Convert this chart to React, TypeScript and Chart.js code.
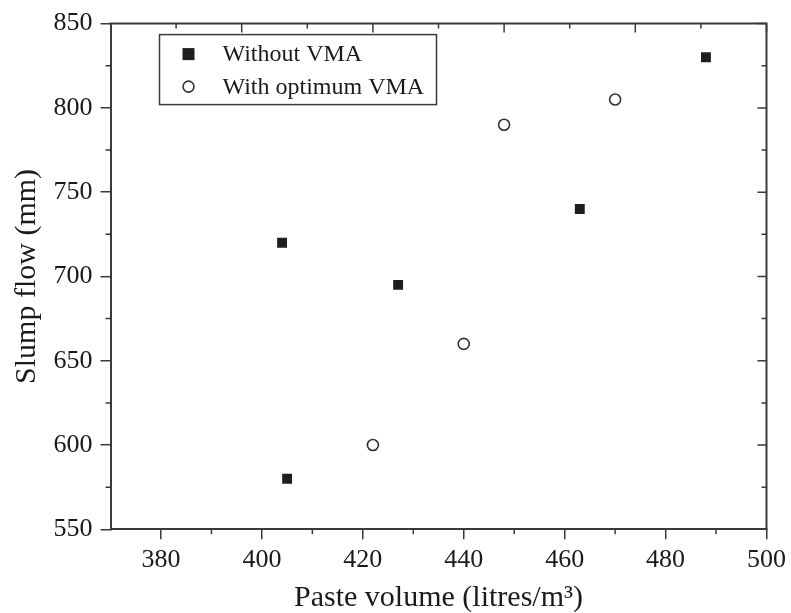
import { useEffect, useRef } from 'react';
import { Chart, registerables } from 'chart.js';

Chart.register(...registerables);

// ---- data ----
const seriesNames = ['Without VMA', 'With optimum VMA'];
const withoutVmaX = [404, 405, 427, 463, 488];
const withoutVmaY = [720, 580, 695, 740, 830];
const withVmaX = [422, 440, 448, 470];
const withVmaY = [600, 660, 790, 805];

const xTitle = 'Paste volume (litres/m³)';
const yTitle = 'Slump flow (mm)';

const xRange = [370, 500];
const yRange = [550, 850];
const xTicks = [380, 400, 420, 440, 460, 480, 500];
const xMinorTicks = [390, 410, 430, 450, 470, 490];
const yTicks = [550, 600, 650, 700, 750, 800, 850];
const yMinorTicks = [575, 625, 675, 725, 775, 825];
const topMajorTicks = [396, 422, 448, 474, 500];
const topMinorTicks = [383, 409, 435, 461, 487];

const FONT = "'Liberation Serif', 'Times New Roman', serif";
const AXIS = '#3a3a3a';
const INK = '#1a1a1a';

const framePlugin = {
  id: 'frameAndLegend',
  afterDraw(chart: any) {
    const { ctx, chartArea: a, scales } = chart;
    const xs = scales.x;
    const ys = scales.y;
    ctx.save();
    ctx.strokeStyle = AXIS;
    ctx.lineWidth = 2;
    ctx.beginPath();
    ctx.moveTo(a.left - 1, a.top);
    ctx.lineTo(a.right, a.top);
    ctx.lineTo(a.right, a.bottom + 1);
    ctx.stroke();

    ctx.lineWidth = 1.5;
    ctx.beginPath();
    // bottom minor (outward)
    xMinorTicks.forEach((v) => {
      const px = xs.getPixelForValue(v);
      ctx.moveTo(px, a.bottom);
      ctx.lineTo(px, a.bottom + 5);
    });
    // left minor (outward)
    yMinorTicks.forEach((v) => {
      const py = ys.getPixelForValue(v);
      ctx.moveTo(a.left, py);
      ctx.lineTo(a.left - 5, py);
    });
    // top ticks (inward)
    topMajorTicks.forEach((v) => {
      const px = xs.getPixelForValue(v);
      ctx.moveTo(px, a.top);
      ctx.lineTo(px, a.top + 9);
    });
    topMinorTicks.forEach((v) => {
      const px = xs.getPixelForValue(v);
      ctx.moveTo(px, a.top);
      ctx.lineTo(px, a.top + 5);
    });
    // right ticks (inward)
    yTicks.forEach((v) => {
      const py = ys.getPixelForValue(v);
      ctx.moveTo(a.right, py);
      ctx.lineTo(a.right - 9, py);
    });
    yMinorTicks.forEach((v) => {
      const py = ys.getPixelForValue(v);
      ctx.moveTo(a.right, py);
      ctx.lineTo(a.right - 5, py);
    });
    ctx.stroke();

    // legend box
    const lx = a.left + 49;
    const ly = a.top + 11;
    const lw = 277;
    const lh = 70;
    ctx.lineWidth = 1.5;
    ctx.strokeStyle = AXIS;
    ctx.strokeRect(lx, ly, lw, lh);
    const rows = [ly + 19.5, ly + 52];
    chart.data.datasets.forEach((ds: any, i: number) => {
      const cy = rows[i];
      const cx = lx + 29;
      if (ds.pointStyle === 'rect') {
        ctx.fillStyle = ds.pointBackgroundColor;
        ctx.fillRect(cx - 6, cy - 6, 12, 12);
      } else {
        ctx.beginPath();
        ctx.arc(cx, cy, 5.5, 0, Math.PI * 2);
        ctx.fillStyle = '#ffffff';
        ctx.fill();
        ctx.lineWidth = 1.6;
        ctx.strokeStyle = ds.pointBorderColor;
        ctx.stroke();
      }
      ctx.fillStyle = INK;
      ctx.font = `24px ${FONT}`;
      ctx.textBaseline = 'middle';
      ctx.textAlign = 'left';
      ctx.fillText(ds.label, lx + 63, cy + 1);
    });
    ctx.restore();
  },
};

export default function App() {
  const ref = useRef<HTMLCanvasElement | null>(null);
  useEffect(() => {
    if (!ref.current) return;
    const chart = new Chart(ref.current, {
      type: 'scatter',
      data: {
        datasets: [
          {
            label: seriesNames[0],
            data: withoutVmaX.map((x, i) => ({ x, y: withoutVmaY[i] })),
            pointStyle: 'rect',
            pointRadius: 7,
            pointBorderWidth: 0,
            pointBackgroundColor: '#1e1e1e',
            pointBorderColor: '#1e1e1e',
          },
          {
            label: seriesNames[1],
            data: withVmaX.map((x, i) => ({ x, y: withVmaY[i] })),
            pointStyle: 'circle',
            pointRadius: 5.5,
            pointBorderWidth: 1.6,
            pointBackgroundColor: '#ffffff',
            pointBorderColor: '#333333',
          },
        ],
      },
      options: {
        responsive: false,
        animation: false,
        devicePixelRatio: 1,
        layout: { padding: { top: 22, right: 23.5, bottom: 0, left: 0 } },
        plugins: { legend: { display: false }, tooltip: { enabled: false } },
        scales: {
          x: {
            type: 'linear',
            position: 'bottom',
            min: xRange[0],
            max: xRange[1],
            afterBuildTicks: (s: any) => {
              s.ticks = xTicks.map((v) => ({ value: v }));
            },
            afterFit: (s: any) => {
              s.height = 83.7;
            },
            border: { display: true, color: AXIS, width: 2 },
            grid: {
              display: true,
              drawOnChartArea: false,
              drawTicks: true,
              tickLength: 10,
              color: AXIS,
              lineWidth: 1.5,
            },
            ticks: {
              color: INK,
              padding: 5,
              maxRotation: 0,
              autoSkip: false,
              font: { family: FONT, size: 26 },
            },
            title: {
              display: true,
              text: xTitle,
              color: INK,
              font: { family: FONT, size: 30, lineHeight: 1 },
              padding: { top: 0, bottom: 0 },
            },
          },
          y: {
            type: 'linear',
            min: yRange[0],
            max: yRange[1],
            afterBuildTicks: (s: any) => {
              s.ticks = yTicks.map((v) => ({ value: v }));
            },
            afterFit: (s: any) => {
              s.width = 110.5;
            },
            border: { display: true, color: AXIS, width: 2 },
            grid: {
              display: true,
              drawOnChartArea: false,
              drawTicks: true,
              tickLength: 10,
              color: AXIS,
              lineWidth: 1.5,
            },
            ticks: {
              color: INK,
              padding: 8,
              autoSkip: false,
              font: { family: FONT, size: 26 },
            },
            title: {
              display: true,
              text: yTitle,
              color: INK,
              font: { family: FONT, size: 30, lineHeight: 1 },
              padding: { top: 12, bottom: 0 },
            },
          },
        },
      },
      plugins: [framePlugin],
    });
    return () => chart.destroy();
  }, []);
  return (
    <div style={{ position: 'absolute', left: 0, top: 0, width: 791, height: 613, background: '#fff' }}>
      <canvas ref={ref} width={791} height={613} style={{ display: 'block' }} />
    </div>
  );
}
